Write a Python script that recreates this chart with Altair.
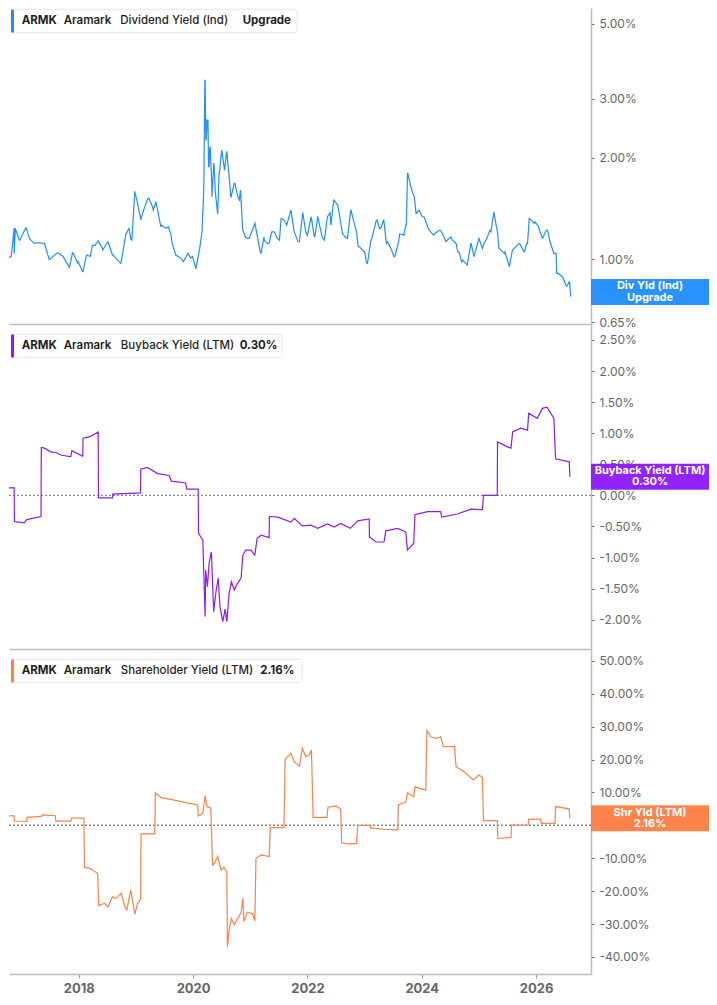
import altair as alt
import pandas as pd

# ---------------- data (decimal years, values in %) ----------------
# dividend yield, two passes of readings (merged and sorted by time)
div_t_a = [2016.64, 2016.82, 2016.87, 2016.96, 2017.08, 2017.14, 2017.22, 2017.40, 2017.49, 2017.63,
           2017.84, 2017.90, 2017.98, 2018.07, 2018.13, 2018.20, 2018.24, 2018.33, 2018.42, 2018.51,
           2018.59, 2018.74, 2018.83, 2018.88, 2018.91, 2018.98, 2019.03, 2019.09, 2019.21, 2019.29,
           2019.35, 2019.44, 2019.53, 2019.61, 2019.67, 2019.79, 2019.91, 2019.99, 2020.05, 2020.11,
           2020.16, 2020.19, 2020.21, 2020.23, 2020.26, 2020.28, 2020.30, 2020.33, 2020.37, 2020.43,
           2020.46, 2020.50, 2020.55, 2020.59, 2020.66, 2020.72, 2020.81, 2020.87, 2020.95, 2021.07,
           2021.19, 2021.24, 2021.33, 2021.42, 2021.51, 2021.59, 2021.71, 2021.77, 2021.86, 2021.92,
           2021.97, 2022.06, 2022.12, 2022.18, 2022.27, 2022.35, 2022.41, 2022.46, 2022.53, 2022.62,
           2022.70, 2022.76, 2022.85, 2022.91, 2023.00, 2023.05, 2023.11, 2023.22, 2023.26, 2023.33,
           2023.40, 2023.46, 2023.53, 2023.60, 2023.69, 2023.72, 2023.75, 2023.81, 2023.87, 2023.90,
           2023.95, 2024.04, 2024.13, 2024.22, 2024.33, 2024.42, 2024.51, 2024.60, 2024.65, 2024.71,
           2024.80, 2024.86, 2024.92, 2025.00, 2025.06, 2025.15, 2025.21, 2025.26, 2025.30, 2025.35,
           2025.44, 2025.53, 2025.59, 2025.70, 2025.79, 2025.85, 2025.88, 2025.97, 2026.05, 2026.11,
           2026.20, 2026.29, 2026.35, 2026.38, 2026.46, 2026.52, 2026.58]
div_v_a = [1.03, 1.02, 1.24, 1.14, 1.24, 1.15, 1.115, 1.115, 1.00, 1.046,
           0.95, 1.046, 0.977, 0.919, 1.02, 1.02, 1.10, 1.128, 1.066, 1.128,
           1.03, 0.977, 1.19, 1.236, 1.15, 1.587, 1.466, 1.323, 1.517, 1.432,
           1.483, 1.264, 1.236, 1.19, 1.066, 1.007, 1.042, 1.02, 0.94, 1.066,
           1.279, 1.719, 3.40, 2.26, 2.59, 1.883, 2.16, 1.533, 1.883, 1.37,
           1.80, 2.11, 1.84, 2.085, 1.533, 1.68, 1.50, 1.22, 1.154, 1.264,
           1.046, 1.167, 1.115, 1.207, 1.14, 1.308, 1.40, 1.207, 1.128, 1.37,
           1.207, 1.323, 1.167, 1.338, 1.154, 1.338, 1.264, 1.50, 1.449, 1.19,
           1.154, 1.40, 1.22, 1.09, 1.053, 0.973, 1.14, 1.308, 1.236, 1.308,
           1.128, 1.078, 1.018, 1.14, 1.18, 1.264, 1.80, 1.64, 1.533, 1.37,
           1.40, 1.338, 1.22, 1.19, 1.22, 1.128, 1.167, 1.115, 1.053, 0.995,
           0.973, 1.115, 1.03, 1.154, 1.078, 1.167, 1.207, 1.384, 1.264, 1.078,
           1.042, 0.955, 1.066, 1.115, 1.053, 1.115, 1.323, 1.279, 1.236, 1.154,
           1.22, 1.066, 1.042, 0.91, 0.888, 0.839, 0.858]
div_t_b = [2016.706, 2016.871, 2016.890, 2016.969, 2017.068, 2017.166, 2017.297, 2017.397, 2017.483,
           2017.626, 2017.726, 2017.838, 2017.890, 2017.988, 2018.074, 2018.140, 2018.201, 2018.283,
           2018.338, 2018.416, 2018.495, 2018.600, 2018.731, 2018.824, 2018.876, 2018.929, 2018.981,
           2019.030, 2019.088, 2019.140, 2019.226, 2019.304, 2019.350, 2019.436, 2019.567, 2019.633,
           2019.698, 2019.831, 2019.895, 2019.962, 2020.047, 2020.112, 2020.159, 2020.179, 2020.205,
           2020.224, 2020.245, 2020.271, 2020.291, 2020.324, 2020.362, 2020.388, 2020.429, 2020.455,
           2020.507, 2020.554, 2020.586, 2020.633, 2020.665, 2020.731, 2020.784, 2020.829, 2020.869,
           2020.915, 2020.981, 2021.081, 2021.179, 2021.245, 2021.310, 2021.376, 2021.474, 2021.540,
           2021.638, 2021.717, 2021.768, 2021.836, 2021.915, 2022.000, 2022.067, 2022.131, 2022.179,
           2022.264, 2022.296, 2022.395, 2022.462, 2022.546, 2022.614, 2022.658, 2022.757, 2022.855,
           2022.888, 2022.992, 2023.033, 2023.119, 2023.205, 2023.283, 2023.336, 2023.381, 2023.458,
           2023.514, 2023.612, 2023.691, 2023.731, 2023.756, 2023.808, 2023.843, 2023.908, 2023.953,
           2024.007, 2024.105, 2024.205, 2024.303, 2024.401, 2024.534, 2024.631, 2024.698, 2024.796,
           2024.862, 2024.915, 2024.993, 2025.091, 2025.191, 2025.258, 2025.322, 2025.355, 2025.453,
           2025.533, 2025.586, 2025.717, 2025.796, 2025.836, 2025.881, 2025.979, 2026.046, 2026.112,
           2026.177, 2026.243, 2026.308, 2026.361, 2026.474, 2026.539, 2026.584, 2026.605]
div_v_b = [1.00, 1.04, 1.236, 1.14, 1.236, 1.14, 1.12, 1.115, 1.00,
           1.046, 1.02, 0.947, 1.046, 0.984, 0.919, 1.03, 1.02, 1.10,
           1.135, 1.078, 1.12, 1.03, 0.973, 1.19, 1.236, 1.14, 1.587,
           1.466, 1.308, 1.407, 1.517, 1.40, 1.483, 1.25, 1.25, 1.115,
           1.03, 0.984, 1.03, 1.01, 0.94, 1.066, 1.22, 1.466, 3.40,
           2.26, 2.59, 1.883, 2.13, 1.72, 1.93, 1.587, 1.37, 1.80,
           2.085, 1.86, 2.085, 1.74, 1.533, 1.68, 1.533, 1.605, 1.22,
           1.167, 1.154, 1.279, 1.046, 1.14, 1.11, 1.207, 1.154, 1.323,
           1.264, 1.384, 1.207, 1.128, 1.363, 1.18, 1.338, 1.167, 1.338,
           1.154, 1.14, 1.375, 1.50, 1.40, 1.19, 1.167, 1.40, 1.22,
           1.09, 1.053, 0.977, 1.14, 1.308, 1.236, 1.308, 1.115, 1.078,
           1.018, 1.19, 1.19, 1.264, 1.80, 1.64, 1.57, 1.37, 1.40,
           1.338, 1.25, 1.18, 1.22, 1.154, 1.14, 1.053, 0.984, 0.962,
           1.115, 1.018, 1.14, 1.115, 1.22, 1.37, 1.22, 1.078, 1.053,
           0.955, 1.066, 1.11, 1.053, 1.115, 1.323, 1.293, 1.25, 1.154,
           1.22, 1.128, 1.042, 0.909, 0.878, 0.833, 0.858, 0.775]

bb_t = [2016.64, 2016.87, 2016.875, 2016.95, 2017.05, 2017.09, 2017.34, 2017.345, 2017.40, 2017.51,
        2017.60, 2017.69, 2017.86, 2017.88, 2018.07, 2018.075, 2018.21, 2018.34, 2018.345, 2018.59,
        2018.595, 2019.08, 2019.085, 2019.20, 2019.38, 2019.58, 2019.62, 2019.87, 2019.89, 2020.09,
        2020.095, 2020.17, 2020.21, 2020.22, 2020.25, 2020.28, 2020.32, 2020.36, 2020.40, 2020.44,
        2020.47, 2020.52, 2020.56, 2020.59, 2020.63, 2020.67, 2020.72, 2020.78, 2020.84, 2020.87,
        2020.92, 2021.01, 2021.08, 2021.12, 2021.19, 2021.33, 2021.335, 2021.48, 2021.71, 2021.77,
        2021.91, 2022.06, 2022.18, 2022.35, 2022.47, 2022.58, 2022.75, 2022.88, 2023.08, 2023.085,
        2023.20, 2023.34, 2023.37, 2023.58, 2023.72, 2023.75, 2023.86, 2023.88, 2024.10, 2024.33,
        2024.35, 2024.62, 2024.86, 2025.06, 2025.08, 2025.32, 2025.325, 2025.50, 2025.56, 2025.59,
        2025.73, 2025.85, 2025.87, 2026.02, 2026.11, 2026.19, 2026.31, 2026.34, 2026.58, 2026.59]
bb_v = [0.12, 0.12, -0.42, -0.43, -0.44, -0.39, -0.34, 0.77, 0.76, 0.70,
        0.69, 0.65, 0.62, 0.72, 0.63, 0.92, 0.95, 1.02, -0.04, -0.04,
        0.02, 0.04, 0.42, 0.45, 0.35, 0.32, 0.23, 0.20, 0.10, 0.10,
        -0.61, -0.72, -1.95, -1.20, -1.47, -1.09, -0.91, -1.87, -1.55, -1.33,
        -1.79, -2.03, -1.83, -2.03, -1.58, -1.39, -1.52, -1.41, -1.33, -0.96,
        -0.88, -0.88, -0.96, -0.69, -0.64, -0.68, -0.34, -0.35, -0.43, -0.37,
        -0.49, -0.48, -0.53, -0.46, -0.51, -0.45, -0.53, -0.41, -0.38, -0.67,
        -0.75, -0.75, -0.57, -0.53, -0.59, -0.88, -0.77, -0.31, -0.26, -0.26,
        -0.35, -0.30, -0.22, -0.23, 0.0, 0.0, 0.86, 0.78, 0.76, 1.02,
        1.08, 1.05, 1.32, 1.24, 1.40, 1.42, 1.24, 0.59, 0.54, 0.30]

sh_t = [2016.64, 2016.87, 2016.875, 2017.09, 2017.095, 2017.34, 2017.37, 2017.59, 2017.60, 2017.86,
        2017.88, 2018.09, 2018.10, 2018.18, 2018.33, 2018.35, 2018.45, 2018.51, 2018.59, 2018.65,
        2018.74, 2018.81, 2018.84, 2018.91, 2018.98, 2019.03, 2019.08, 2019.09, 2019.33, 2019.34,
        2019.44, 2019.61, 2019.87, 2020.08, 2020.09, 2020.17, 2020.21, 2020.24, 2020.31, 2020.34,
        2020.37, 2020.43, 2020.49, 2020.54, 2020.59, 2020.60, 2020.63, 2020.67, 2020.72, 2020.78,
        2020.84, 2020.87, 2020.89, 2020.95, 2021.04, 2021.08, 2021.10, 2021.19, 2021.33, 2021.35,
        2021.59, 2021.61, 2021.71, 2021.77, 2021.86, 2021.91, 2021.97, 2022.03, 2022.07, 2022.10,
        2022.34, 2022.36, 2022.50, 2022.58, 2022.60, 2022.73, 2022.86, 2022.88, 2023.10, 2023.105,
        2023.34, 2023.58, 2023.59, 2023.72, 2023.75, 2023.86, 2023.88, 2024.07, 2024.09, 2024.16,
        2024.25, 2024.33, 2024.38, 2024.57, 2024.60, 2024.74, 2024.90, 2025.00, 2025.06, 2025.08,
        2025.32, 2025.33, 2025.56, 2025.57, 2025.86, 2025.87, 2026.08, 2026.09, 2026.33, 2026.34,
        2026.58, 2026.59]
sh_v = [2.9, 2.9, 1.3, 1.2, 2.4, 2.7, 3.2, 2.9, 1.3, 1.3,
        2.3, 2.1, -12.8, -13.0, -14.6, -24.5, -23.7, -24.8, -21.7, -22.2,
        -20.7, -24.8, -25.7, -19.7, -27.0, -23.7, -22.5, -2.6, -2.6, 9.9,
        8.4, 7.9, 6.9, 6.2, 2.8, 3.6, 9.0, 5.7, 5.2, -12.1,
        -11.6, -9.5, -13.6, -12.8, -14.0, -36.9, -31.8, -28.3, -30.2, -28.3,
        -26.6, -22.2, -29.2, -26.4, -26.9, -29.0, -10.0, -9.0, -9.5, -0.7,
        -0.7, 20.1, 21.9, 19.3, 18.0, 23.4, 20.9, 21.4, 22.9, 2.4,
        2.4, 5.5, 5.9, 4.9, -5.3, -5.7, -5.5, 0.0, 0.0, -0.8,
        -1.2, -1.4, 6.2, 7.1, 9.9, 8.7, 11.7, 10.7, 28.8, 26.9,
        26.4, 26.9, 23.9, 23.9, 17.8, 16.3, 13.8, 15.3, 14.6, 1.4,
        1.4, -4.0, -3.7, 0.1, 0.1, 1.9, 1.9, 0.6, 0.6, 5.7,
        5.0, 2.1]

titles = [
    ["ARMK", "Aramark", "Dividend Yield (Ind)", "Upgrade"],
    ["ARMK", "Aramark", "Buyback Yield (LTM)", "0.30%"],
    ["ARMK", "Aramark", "Shareholder Yield (LTM)", "2.16%"],
]
tags = [("Div Yld (Ind)", "Upgrade"), ("Buyback Yield (LTM)", "0.30%"), ("Shr Yld (LTM)", "2.16%")]
tag_values = [0.80, 0.30, 2.16]
colors = ["#1F8FFF", "#8C1AFF", "#FF7F45"]

div_ticks = [0.65, 0.83, 1.0, 2.0, 3.0, 5.0]
bb_ticks = [-2.0, -1.5, -1.0, -0.5, 0.0, 0.5, 1.0, 1.5, 2.0, 2.5]
sh_ticks = [-40, -30, -20, -10, 0, 10, 20, 30, 40, 50]
year_ticks = [2018, 2020, 2022, 2024, 2026]

# ---------------- layout ----------------
W = 582
X_DOMAIN = [2016.78, 2026.96]
FONT = "Inter"
BOX_W = 118
BOX_CX = W + BOX_W / 2
BOX_PATH = "M-1,-0.2203L1,-0.2203L1,0.2203L-1,0.2203Z"
one = pd.DataFrame({"a": [0]})


def panel(df, color, yscale, yticks, height, title, tag, tag_v, title_y, box_right,
          seg_x, zero=False, bottom=False):
    if bottom:
        xaxis = alt.Axis(values=year_ticks, format="d", title=None, grid=False,
                         labelFont=FONT, labelFontSize=13, labelFontWeight="bold",
                         labelColor="#666", tickColor="#999", tickSize=4,
                         domainColor="#bdbdbd", domainWidth=1.5, labelPadding=4)
    else:
        xaxis = alt.Axis(labels=False, ticks=False, title=None, grid=False,
                         domainColor="#bdbdbd", domainWidth=1.5)
    yaxis = alt.Axis(orient="right", values=yticks, title=None, grid=False,
                     labelExpr="replace(format(datum.value, '.2f'), '\u2212', '-') + '%'",
                     labelFont=FONT, labelFontSize=12, labelColor="#666",
                     tickColor="#666", tickSize=3, labelPadding=5,
                     domainColor="#bdbdbd", domainWidth=1.5)
    xs = alt.Scale(domain=X_DOMAIN, nice=False, zero=False)

    def Y():
        return alt.Y("v:Q", scale=yscale, axis=yaxis)

    layers = []
    if zero:
        layers.append(alt.Chart(pd.DataFrame({"v": [0.0]})).mark_rule(
            color="#888", strokeDash=[2, 2], strokeWidth=1.4).encode(y=Y()))
    layers.append(alt.Chart(df).mark_line(color=color, strokeWidth=1.2, clip=True).encode(
        x=alt.X("t:Q", scale=xs, axis=xaxis), y=Y(), order="i:Q"))
    tdf = pd.DataFrame({"v": [tag_v], "l1": [tag[0]], "l2": [tag[1]]})
    layers.append(alt.Chart(tdf).mark_point(shape=BOX_PATH, size=BOX_W ** 2, filled=True,
                                            fill=color, opacity=0.96, strokeWidth=0).encode(
        x=alt.value(BOX_CX), y=Y()))
    for fld, dy in (("l1", -5.6), ("l2", 5.6)):
        layers.append(alt.Chart(tdf).mark_text(color="white", font=FONT, fontSize=11,
                                               fontWeight="bold", dy=dy,
                                               align="center", baseline="middle").encode(
            x=alt.value(BOX_CX), y=Y(), text=f"{fld}:N"))
    # title card
    layers.append(alt.Chart(one).mark_rect(fill="white", stroke="#e6e6e6", strokeWidth=1,
                                           cornerRadius=3).encode(
        x=alt.value(2), x2=alt.value(box_right), y=alt.value(title_y - 11.7),
        y2=alt.value(title_y + 11.7)))
    layers.append(alt.Chart(one).mark_rect(fill=color, cornerRadius=1.5).encode(
        x=alt.value(2), x2=alt.value(5), y=alt.value(title_y - 11.7),
        y2=alt.value(title_y + 11.7)))
    weights = [700, 600, 500, 700]
    for txt, xx, wgt in zip(title, seg_x, weights):
        layers.append(alt.Chart(one).mark_text(text=txt, font=FONT, fontSize=11.5,
                                               fontWeight=wgt, color="#1f1f1f",
                                               align="left", baseline="middle").encode(
            x=alt.value(xx), y=alt.value(title_y)))
    return alt.layer(*layers).properties(width=W, height=height)


div_df = pd.DataFrame({"t": div_t_a + div_t_b, "v": div_v_a + div_v_b}).sort_values("t")
div_df["i"] = range(len(div_df))
bb_df = pd.DataFrame({"t": bb_t, "v": bb_v, "i": range(len(bb_t))})
sh_df = pd.DataFrame({"t": sh_t, "v": sh_v, "i": range(len(sh_t))})

p1 = panel(div_df, colors[0],
           alt.Scale(type="log", domain=[0.643, 5.57], nice=False), div_ticks, 316,
           titles[0], tags[0], tag_values[0], 13, 288, [12.7, 54.7, 111.3, 233.7])
p2 = panel(bb_df, colors[1],
           alt.Scale(domain=[-2.471, 2.757], nice=False, zero=False), bb_ticks, 325,
           titles[1], tags[1], tag_values[1], 22, 273, [12.7, 54.7, 111.8, 230.7], zero=True)
p3 = panel(sh_df, colors[2],
           alt.Scale(domain=[-45.2, 53.6], nice=False, zero=False), sh_ticks, 325,
           titles[2], tags[2], tag_values[2], 22, 293, [12.7, 54.7, 111.8, 251.3],
           zero=True, bottom=True)

chart = alt.vconcat(p1, p2, p3, spacing=0, bounds="flush").properties(
    padding={"left": 0, "top": 0, "right": 0, "bottom": 0}
).configure_view(stroke=None)

chart.save("out.html", embed_options={"renderer": "svg", "actions": False})
